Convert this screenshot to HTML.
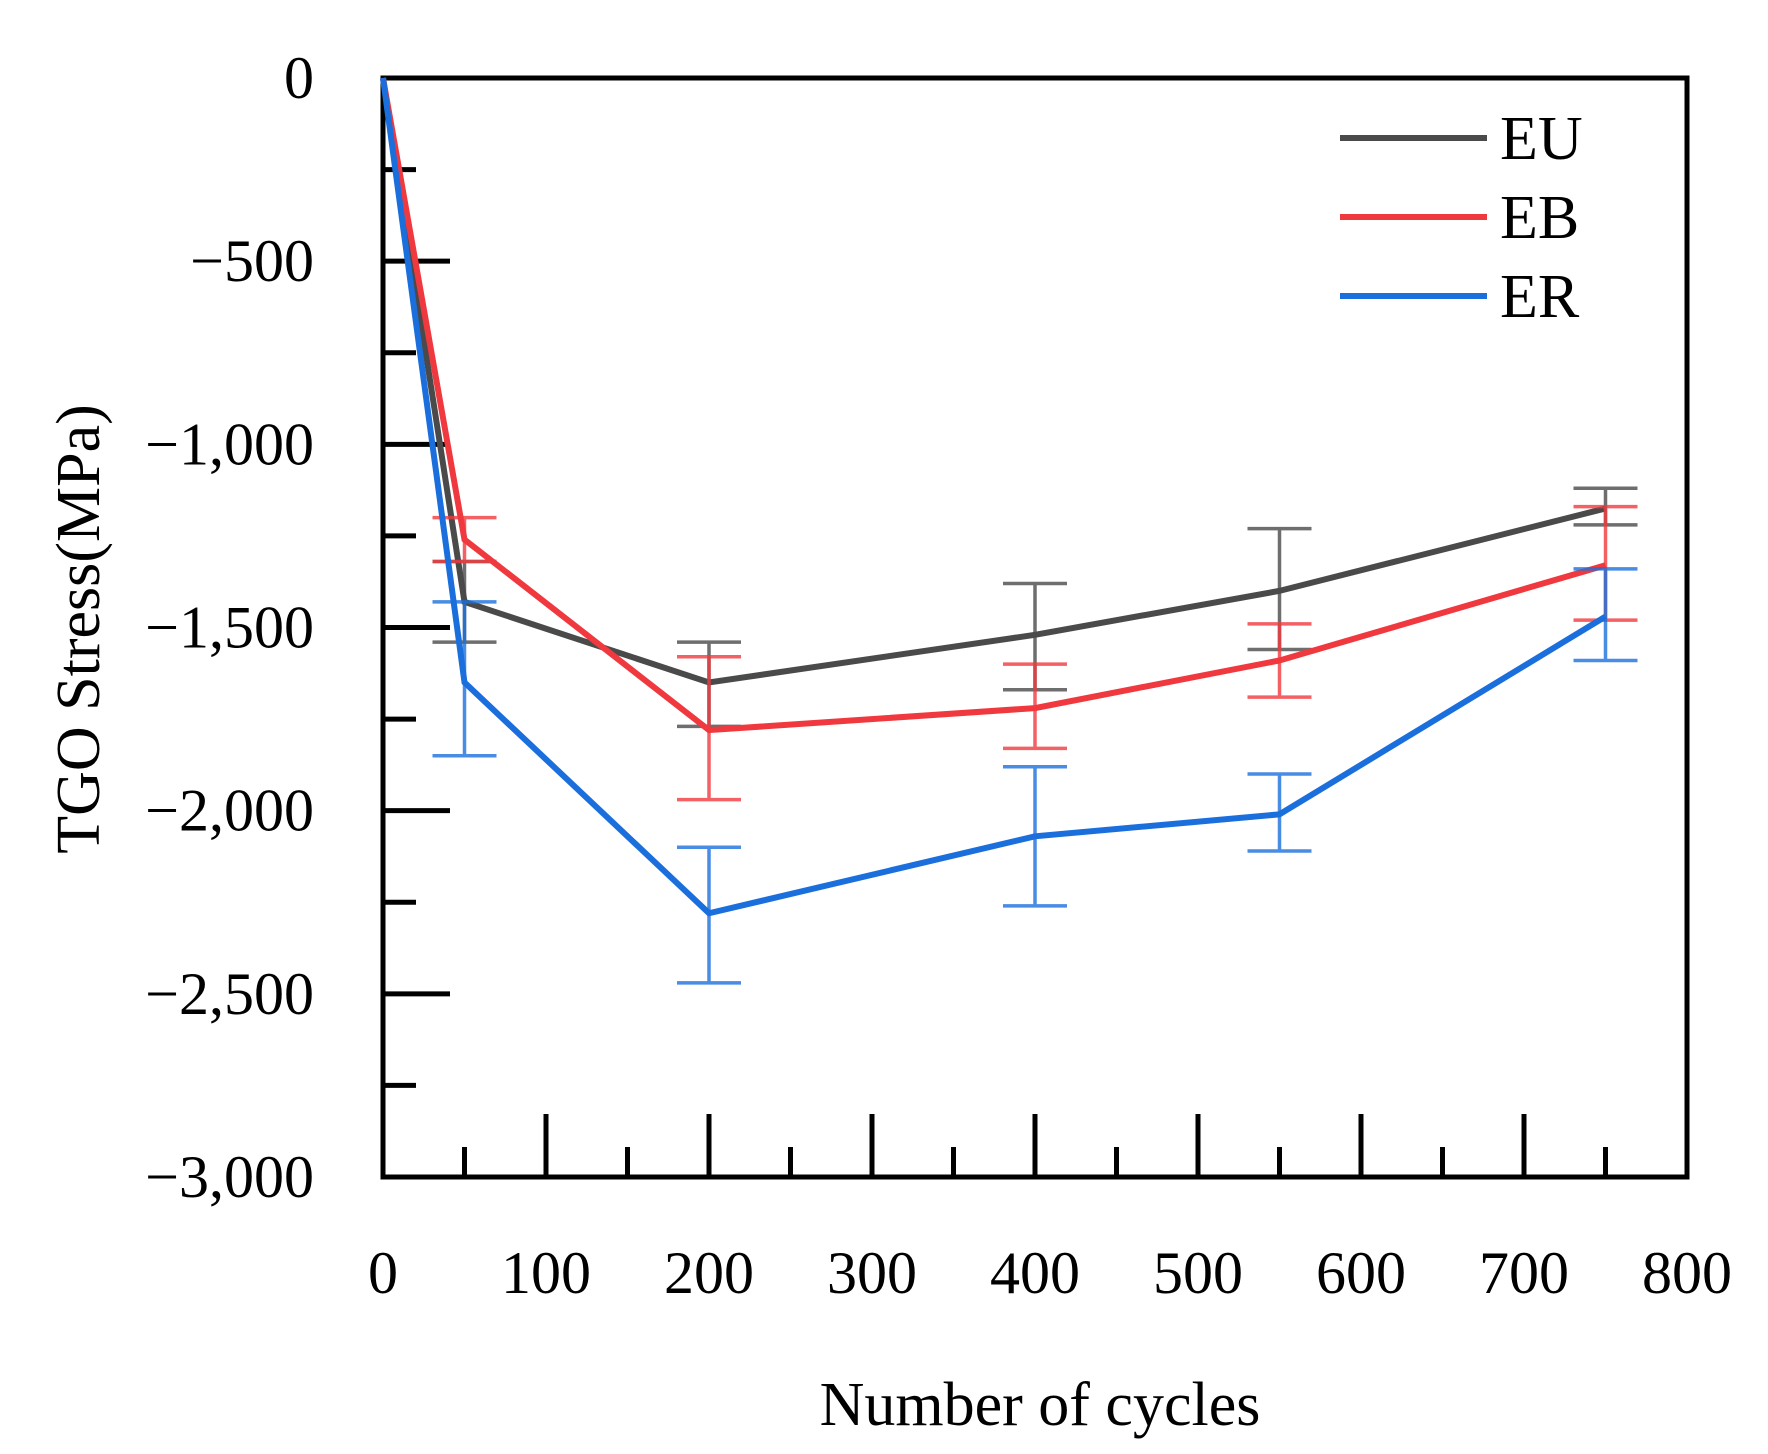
<!DOCTYPE html>
<html><head><meta charset="utf-8"><style>
html,body{margin:0;padding:0;background:#fff;}
svg{display:block;font-family:"Liberation Serif",serif;}
</style></head><body>
<svg id="chart" width="1768" height="1454" viewBox="0 0 1768 1454"></svg>
<script>
const cycles = [0, 50, 200, 400, 550, 750];
const euValues = [0, -1430, -1650, -1520, -1400, -1175];
const euUpper = [0, -1320, -1540, -1380, -1230, -1120];
const euLower = [0, -1540, -1770, -1670, -1560, -1220];
const ebValues = [0, -1260, -1780, -1720, -1590, -1330];
const ebUpper = [0, -1200, -1580, -1600, -1490, -1170];
const ebLower = [0, -1320, -1970, -1830, -1690, -1480];
const erValues = [0, -1650, -2280, -2070, -2010, -1470];
const erUpper = [0, -1430, -2100, -1880, -1900, -1340];
const erLower = [0, -1850, -2470, -2260, -2110, -1590];
const xTickLabels = ["0","100","200","300","400","500","600","700","800"];
const xTickValues = [0,100,200,300,400,500,600,700,800];
const yTickLabels = ["0","\u2212500","\u22121,000","\u22121,500","\u22122,000","\u22122,500","\u22123,000"];
const yTickValues = [0,-500,-1000,-1500,-2000,-2500,-3000];

const L=383,R=1687,T=78,B=1177;
const xs=v=>L+(v-0)/800*(R-L);
const ys=v=>T+(0-v)/3000*(B-T);
const svg=document.getElementById('chart');
const NS='http://www.w3.org/2000/svg';
function mk(tag,attrs,parent){const e=document.createElementNS(NS,tag);for(const k in attrs)e.setAttribute(k,attrs[k]);(parent||svg).appendChild(e);return e;}

for(let v=0;v>=-3000;v-=250){
  const major=(v%500===0);
  const t=mk('line',{x1:L,x2:L+(major?67:33),y1:ys(v),y2:ys(v),stroke:'#000','stroke-width':5});
  
  
}
for(let v=50;v<800;v+=50){
  const major=(v%100===0);
  const t=mk('line',{x1:xs(v),x2:xs(v),y1:B,y2:B-(major?63:30),stroke:'#000','stroke-width':5});
  
  
}
const frame=mk('rect',{x:L,y:T,width:R-L,height:B-T,fill:'none',stroke:'#000','stroke-width':5});



yTickLabels.forEach((s,i)=>{
  const t=mk('text',{x:314,y:ys(yTickValues[i])+20,'text-anchor':'end','font-size':60,fill:'#000'});
  t.textContent=s;
  
  
});
xTickLabels.forEach((s,i)=>{
  const t=mk('text',{x:xs(xTickValues[i]),y:1293,'text-anchor':'middle','font-size':60,fill:'#000'});
  t.textContent=s;
  
  
});

const series=[
  {name:'EU',vals:euValues,up:euUpper,lo:euLower,color:'#4a4a4a'},
  {name:'EB',vals:ebValues,up:ebUpper,lo:ebLower,color:'#f0393f'},
  {name:'ER',vals:erValues,up:erUpper,lo:erLower,color:'#1a6fdc'}
];
series.forEach(s=>{
  const g=mk('g',{});
  
  
  for(let i=1;i<cycles.length;i++){
    const x=xs(cycles[i]);
    const eb=mk('path',{d:`M${x-32},${ys(s.up[i])}H${x+32}M${x},${ys(s.up[i])}V${ys(s.lo[i])}M${x-32},${ys(s.lo[i])}H${x+32}`,stroke:s.color,'stroke-width':3.5,'stroke-opacity':0.8,fill:'none'},g);
    
    
  }
  const pts=cycles.map((c,i)=>xs(c)+','+ys(s.vals[i])).join(' ');
  const pl=mk('polyline',{points:pts,fill:'none',stroke:s.color,'stroke-width':6,'stroke-linejoin':'miter'},g);
  
  
});

const leg=mk('g',{});


series.forEach((s,i)=>{
  const y=138+i*79;
  const ln=mk('line',{x1:1340,x2:1487,y1:y,y2:y,stroke:s.color,'stroke-width':6},leg);
  
  
  const t=mk('text',{x:1500,y:y+21,'font-size':62,fill:'#000'},leg);
  t.textContent=s.name;
  
  
});

const yt=mk('text',{x:0,y:0,'text-anchor':'middle','font-size':62,fill:'#000',transform:'translate(99,629) rotate(-90)'});
yt.textContent='TGO Stress(MPa)';


const xt=mk('text',{x:1040,y:1425,'text-anchor':'middle','font-size':62,fill:'#000'});
xt.textContent='Number of cycles';


</script>
</body></html>
